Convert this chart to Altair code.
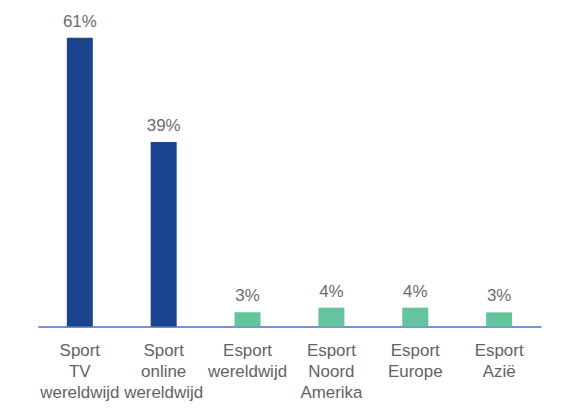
import altair as alt
import pandas as pd

# categorieën en waarden (percentages)
categories = [
    "Sport TV wereldwijd",
    "Sport online wereldwijd",
    "Esport wereldwijd",
    "Esport Noord Amerika",
    "Esport Europe",
    "Esport Azië",
]
values = [61, 39, 3, 4, 4, 3]
groups = ["Sport", "Sport", "Esport", "Esport", "Esport", "Esport"]

df = pd.DataFrame({"categorie": categories, "waarde": values, "groep": groups})
df["label"] = df["waarde"].astype(str) + "%"

FONT = "Liberation Sans"
GREY = "#636363"

x = alt.X(
    "categorie:N",
    sort=categories,
    scale=alt.Scale(paddingInner=0.69, paddingOuter=0.345),
    axis=alt.Axis(
        title=None,
        labelAngle=0,
        labelExpr="split(datum.label, ' ')",
        labelFont=FONT,
        labelFontSize=17,
        labelColor=GREY,
        labelLineHeight=21,
        labelPadding=16,
        labelBaseline="top",
        ticks=False,
        domainColor="#4472c4",
        domainWidth=1.5,
    ),
)
y = alt.Y("waarde:Q", scale=alt.Scale(domain=[0, 64]), axis=None)

bars = (
    alt.Chart(df)
    .mark_bar()
    .encode(
        x=x,
        y=y,
        color=alt.Color(
            "groep:N",
            scale=alt.Scale(domain=["Sport", "Esport"], range=["#1a458e", "#63c49e"]),
            legend=None,
        ),
    )
)

text = (
    alt.Chart(df)
    .mark_text(baseline="bottom", dy=-7, font=FONT, fontSize=17, color="#6b6b6b")
    .encode(x=x, y=y, text="label:N")
)

chart = (
    (bars + text)
    .properties(
        width=505,
        height=304,
        padding={"left": 30, "top": 15, "right": 20, "bottom": 82},
        autosize=alt.AutoSizeParams(type="none"),
    )
    .configure_view(stroke=None)
)

chart.save("out.html", embed_options={"renderer": "svg", "actions": False})
